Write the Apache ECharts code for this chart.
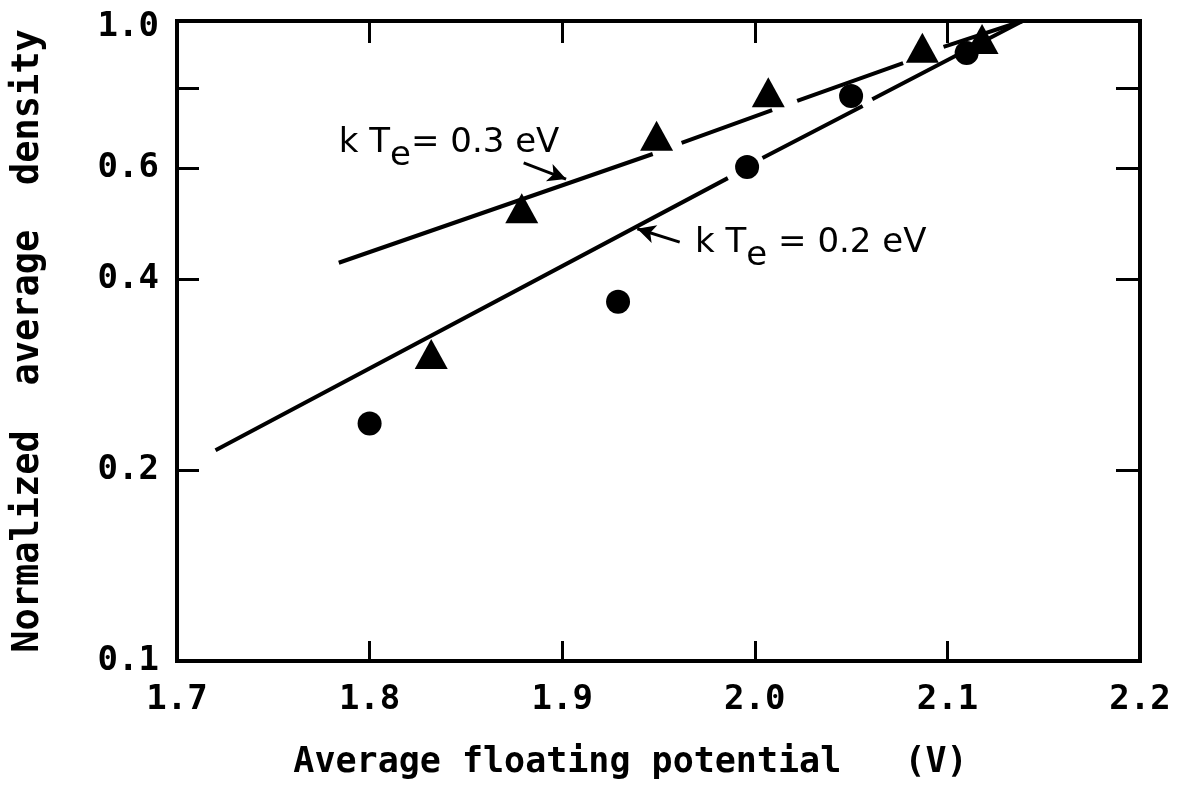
<!DOCTYPE html>
<html>
<head>
<meta charset="utf-8">
<script src="https://cdn.jsdelivr.net/npm/echarts@6/dist/echarts.min.js"></script>
<style>
  html, body { margin: 0; padding: 0; background: #fff; }
  #chart { width: 1177px; height: 785px; }
</style>
</head>
<body>
<div id="chart"></div>
<script>
// ---- data ----
const xTicks = [1.8, 1.9, 2.0, 2.1];
const yTicks = [0.2, 0.4, 0.6, 0.8];
const yLabelValues = [0.1, 0.2, 0.4, 0.6, 1.0];

const circleX = [1.800, 1.929, 1.996, 2.050, 2.110];
const circleY = [0.237, 0.369, 0.602, 0.779, 0.911];

const triangleX = [1.832, 1.879, 1.949, 2.007, 2.087, 2.118];
const triangleY = [0.305, 0.518, 0.674, 0.790, 0.928, 0.958];

// hand-drawn fit lines, broken where they pass the markers (null = gap)
const fit03 = [[1.784, 0.425], [1.947, 0.631], null,
               [1.962, 0.657], [2.009, 0.740], null,
               [2.022, 0.765], [2.077, 0.878], null,
               [2.098, 0.931], [2.139, 1.023]];
const fit02 = [[1.720, 0.215], [1.986, 0.578], null,
               [2.004, 0.622], [2.056, 0.751], null,
               [2.061, 0.770], [2.139, 1.023]];

// annotation arrows: [start, tip]
const arrow03 = [[1.880, 0.611], [1.902, 0.576]];
const arrow02 = [[1.961, 0.458], [1.939, 0.481]];

// annotation anchors and texts
const labelPos = [[1.784, 0.6485], [1.969, 0.451]];
const labelText = ['{m|k T}{s|e}{m|= 0.3 eV}', '{m|k T}{s|e}{m| = 0.2 eV}'];

const xName = 'Average floating potential   (V)';
const yName = 'Normalized  average  density';

// ---- chart ----
const BLACK = '#000';
const mono = 'DejaVu Sans Mono';
const sans = 'DejaVu Sans';

function toPairs(xs, ys) { return xs.map((x, i) => [x, ys[i]]); }
function withGaps(arr) { return arr.map(p => p === null ? [null, null] : p); }

const chart = echarts.init(document.getElementById('chart'), null, { renderer: 'canvas' });

const tickStyle = { color: BLACK, width: 3 };
const labelFont = { fontFamily: mono, fontSize: 34, fontWeight: 'bold', color: BLACK };

const option = {
  animation: false,
  backgroundColor: '#fff',
  grid: {
    left: 177, top: 21, right: 37, bottom: 124,
    show: true, borderColor: BLACK, borderWidth: 4, backgroundColor: 'transparent'
  },
  xAxis: [
    {
      type: 'value', position: 'bottom', min: 1.7, max: 2.2, interval: 0.1,
      axisLine: { show: false }, splitLine: { show: false },
      axisTick: { inside: true, length: 20, lineStyle: tickStyle, customValues: xTicks },
      axisLabel: Object.assign({ margin: 22, formatter: v => v.toFixed(1) }, labelFont),
      name: xName, nameLocation: 'middle', nameGap: 84,
      nameTextStyle: { fontFamily: mono, fontSize: 35, fontWeight: 'bold', color: BLACK, padding: [0, 56, 0, 0] }
    },
    {
      type: 'value', position: 'top', min: 1.7, max: 2.2, interval: 0.1,
      axisLine: { show: false }, splitLine: { show: false },
      axisTick: { inside: true, length: 22, lineStyle: tickStyle, customValues: xTicks },
      axisLabel: { show: false }
    }
  ],
  yAxis: [
    {
      type: 'log', logBase: 10, position: 'left', min: 0.1, max: 1.023,
      axisLine: { show: false }, splitLine: { show: false }, minorTick: { show: false },
      axisTick: { inside: true, length: 22, lineStyle: tickStyle, customValues: yTicks },
      axisLabel: Object.assign({ margin: 18, customValues: yLabelValues, formatter: v => Number(v).toFixed(1) }, labelFont),
      name: yName, nameLocation: 'middle', nameGap: 130, nameRotate: 90,
      nameTextStyle: { fontFamily: mono, fontSize: 37, fontWeight: 'bold', color: BLACK }
    },
    {
      type: 'log', logBase: 10, position: 'right', min: 0.1, max: 1.023,
      axisLine: { show: false }, splitLine: { show: false }, minorTick: { show: false },
      axisTick: { inside: true, length: 24, lineStyle: tickStyle, customValues: yTicks },
      axisLabel: { show: false }
    }
  ],
  series: [
    {
      name: 'kTe = 0.3 eV', type: 'line', data: withGaps(fit03),
      symbol: 'none', connectNulls: false, silent: true,
      lineStyle: { color: BLACK, width: 4 },
      markLine: {
        silent: true, symbol: ['none', 'arrow'], symbolSize: [14, 18],
        label: { show: false }, lineStyle: { color: BLACK, width: 3, type: 'solid', opacity: 1 },
        itemStyle: { color: BLACK },
        data: [[{ coord: arrow03[0] }, { coord: arrow03[1] }]]
      }
    },
    {
      name: 'kTe = 0.2 eV', type: 'line', data: withGaps(fit02),
      symbol: 'none', connectNulls: false, silent: true,
      lineStyle: { color: BLACK, width: 4 },
      markLine: {
        silent: true, symbol: ['none', 'arrow'], symbolSize: [14, 18],
        label: { show: false }, lineStyle: { color: BLACK, width: 3, type: 'solid', opacity: 1 },
        itemStyle: { color: BLACK },
        data: [[{ coord: arrow02[0] }, { coord: arrow02[1] }]]
      }
    },
    {
      name: 'circles', type: 'scatter', data: toPairs(circleX, circleY),
      symbol: 'circle', symbolSize: 24, silent: true,
      itemStyle: { color: BLACK, opacity: 1 }
    },
    {
      name: 'triangles', type: 'scatter', data: toPairs(triangleX, triangleY),
      symbol: 'triangle', symbolSize: [33, 30], silent: true,
      itemStyle: { color: BLACK, opacity: 1 }
    },
    {
      name: 'annotations', type: 'scatter', silent: true, symbolSize: 0,
      itemStyle: { color: BLACK, opacity: 1 },
      data: labelPos.map((p, i) => ({
        value: p,
        label: {
          show: true, position: 'right', distance: 0, opacity: 1, color: BLACK,
          formatter: labelText[i],
          rich: {
            m: { fontFamily: sans, fontSize: 34, color: BLACK, verticalAlign: 'top', lineHeight: 40 },
            s: { fontFamily: sans, fontSize: 34, color: BLACK, verticalAlign: 'top', lineHeight: 40, padding: [13, 0, 0, 0] }
          }
        }
      }))
    }
  ]
};

chart.setOption(option);
</script>
</body>
</html>
